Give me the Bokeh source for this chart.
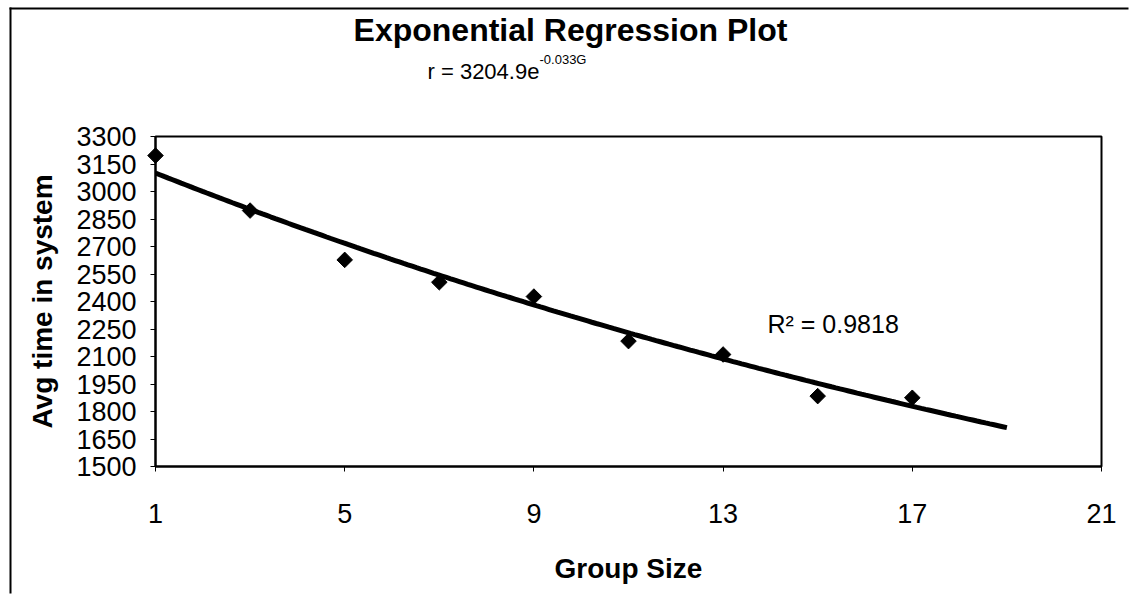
import numpy as np
from bokeh.plotting import figure
from bokeh.models import Range1d, FixedTicker, ColumnDataSource
from bokeh.core.properties import value
from bokeh.embed import file_html
from bokeh.resources import INLINE

# ---- data ----
group_size = [1, 3, 5, 7, 9, 11, 13, 15, 17]
avg_time = [3196, 2896, 2627, 2505, 2427, 2184, 2111, 1884, 1875]

# fitted exponential shown on the chart: r = 3204.9 e^(-0.033 G)
fit_a = 3204.9
fit_b = -0.033
fit_start = 1
fit_end = 19

x_ticks = [1, 5, 9, 13, 17, 21]
y_ticks = [1500, 1650, 1800, 1950, 2100, 2250, 2400, 2550, 2700, 2850, 3000, 3150, 3300]

title_text = "Exponential Regression Plot"
eq_main = "r = 3204.9e"
eq_sup = "-0.033G"
r2_text = "R\u00b2 = 0.9818"
x_title = "Group Size"
y_title = "Avg time in system"

FONT = "Liberation Sans"

# frame geometry in page pixels
W, H = 1131, 596
FX0, FX1, FY0, FY1 = 155, 1101, 136, 466


def px_to_x(px):
    return x_ticks[0] + (px - FX0) * (x_ticks[-1] - x_ticks[0]) / (FX1 - FX0)


def py_to_y(py):
    return y_ticks[-1] - (py - FY0) * (y_ticks[-1] - y_ticks[0]) / (FY1 - FY0)


p = figure(width=W, height=H, output_backend="svg", toolbar_location=None,
           x_range=Range1d(x_ticks[0], x_ticks[-1]), y_range=Range1d(y_ticks[0], y_ticks[-1]),
           min_border_left=FX0, min_border_right=W - FX1,
           min_border_top=FY0, min_border_bottom=H - FY1)
p.background_fill_color = "white"
p.border_fill_color = "white"
p.outline_line_color = "black"
p.outline_line_width = 2
p.xgrid.visible = False
p.ygrid.visible = False

for ax in (p.xaxis[0], p.yaxis[0]):
    ax.axis_line_color = "black"
    ax.axis_line_width = 2
    ax.major_tick_line_color = "black"
    ax.major_tick_line_width = 1
    ax.major_tick_out = 5
    ax.major_tick_in = 0
    ax.minor_tick_line_color = None
    ax.major_label_text_font = FONT
    ax.major_label_text_font_size = "27px"
    ax.major_label_text_color = "black"
    ax.axis_label_text_font = FONT
    ax.axis_label_text_font_size = "28px"
    ax.axis_label_text_font_style = "bold"
    ax.axis_label_text_color = "black"

p.xaxis.ticker = FixedTicker(ticks=x_ticks)
p.yaxis.ticker = FixedTicker(ticks=y_ticks)
p.xaxis.axis_label = x_title
p.yaxis.axis_label = y_title
p.xaxis.major_label_standoff = 32
p.xaxis.axis_label_standoff = 27
p.yaxis.major_label_standoff = 14
p.yaxis.axis_label_standoff = 15

# outer chart-area border (top and left edges visible in the window), kept inside the canvas
p.line(x=[px_to_x(9), px_to_x(W - 3)], y=[py_to_y(8), py_to_y(8)],
       line_color="black", line_width=2, level="overlay")
p.line(x=[px_to_x(10), px_to_x(10)], y=[py_to_y(7), py_to_y(H - 3)],
       line_color="black", line_width=2, level="overlay")

# trend line
g = np.linspace(fit_start, fit_end, 200)
p.line(g, fit_a * np.exp(fit_b * g), line_color="black", line_width=5)

# data points (diamonds)
src = ColumnDataSource(dict(x=group_size, y=avg_time))
p.scatter("x", "y", source=src, marker="square", angle=np.pi / 4, size=11,
          fill_color="black", line_color="black", level="overlay")


def add_text(px, py, txt, size, bold=False, align="left"):
    p.text(x=[px_to_x(px)], y=[py_to_y(py)], text=[txt], text_align=align,
           text_baseline="middle", text_font=value(FONT), text_font_size=size,
           text_font_style="bold" if bold else "normal", text_color="black",
           level="overlay")


add_text(570, 29, title_text, "32px", bold=True, align="center")
add_text(427, 71, eq_main, "22px")
add_text(539, 59, eq_sup, "13px")
add_text(767, 323, r2_text, "25px")

open("out.html", "w").write(file_html(p, INLINE))
